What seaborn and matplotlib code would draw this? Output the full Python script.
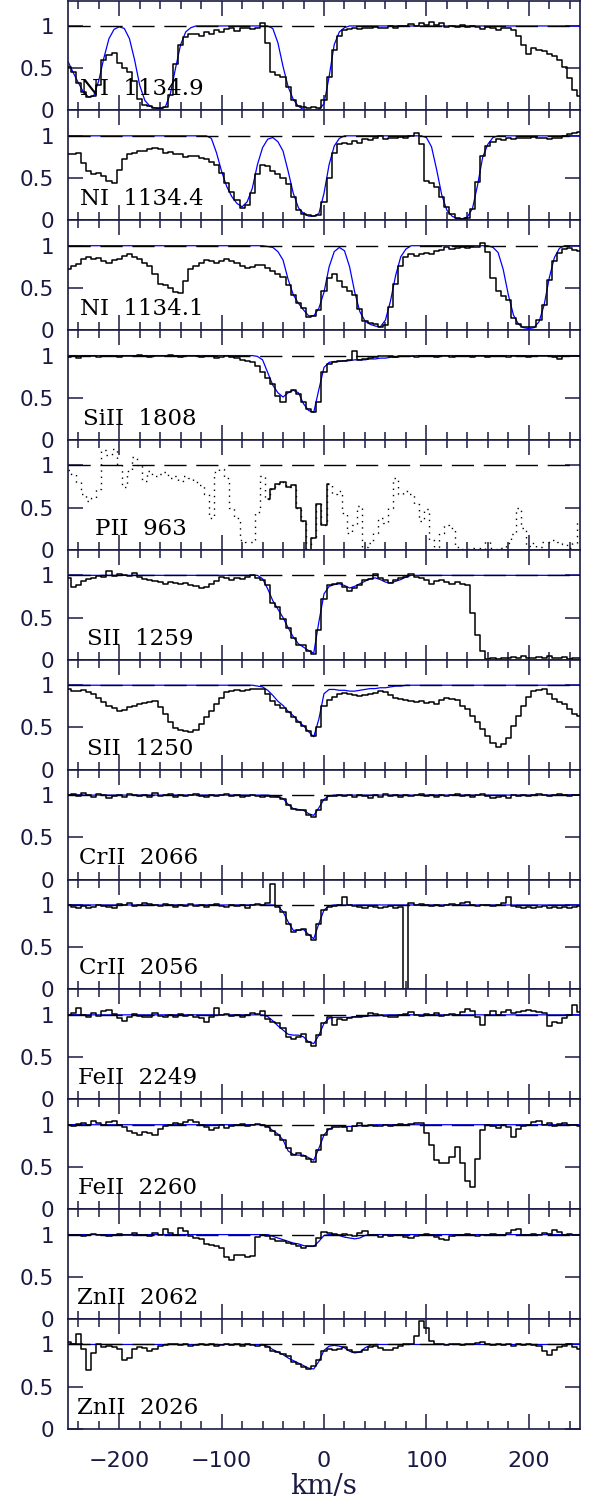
import numpy as np
import matplotlib
matplotlib.use("Agg")
import matplotlib.pyplot as plt
import seaborn as sns
from matplotlib.ticker import FixedLocator, MultipleLocator

# ---------------- data ----------------
VEL = np.arange(-250, 251, 5)  # velocity grid (km/s)

LABELS = ["NI  1134.9", "NI  1134.4", "NI  1134.1", "SiII  1808", "PII  963",
          "SII  1259", "SII  1250", "CrII  2066", "CrII  2056", "FeII  2249",
          "FeII  2260", "ZnII  2062", "ZnII  2026"]

F1 = [0.52, 0.45, 0.33, 0.22, 0.16, 0.17, 0.30, 0.60, 0.66, 0.68,
      0.56, 0.50, 0.46, 0.35, 0.14, 0.07, 0.05, 0.03, 0.03, 0.04,
      0.18, 0.55, 0.78, 0.87, 0.90, 0.91, 0.88, 0.93, 0.91, 0.95,
      0.93, 0.96, 0.98, 0.94, 0.98, 0.97, 0.96, 0.98, 1.04, 0.80,
      0.45, 0.42, 0.40, 0.28, 0.12, 0.05, 0.04, 0.03, 0.04, 0.03,
      0.12, 0.40, 0.72, 0.88, 0.95, 0.96, 0.97, 0.96, 0.98, 0.97,
      0.99, 0.97, 0.98, 1.00, 0.97, 1.00, 1.00, 1.02, 1.00, 1.03,
      1.01, 1.05, 1.01, 1.03, 0.99, 1.00, 0.99, 1.01, 0.99, 1.00,
      0.99, 0.96, 0.99, 0.97, 0.95, 0.97, 0.98, 0.95, 0.88, 0.78,
      0.67, 0.74, 0.72, 0.70, 0.67, 0.65, 0.60, 0.52, 0.38, 0.24,
      0.17]
M1 = [0.58, 0.45, 0.33, 0.22, 0.16, 0.17, 0.35, 0.62, 0.85, 0.96,
      0.99, 0.97, 0.85, 0.60, 0.30, 0.12, 0.05, 0.03, 0.02, 0.04,
      0.20, 0.50, 0.78, 0.93, 0.98, 1, 1, 1, 1, 1,
      1, 1, 1, 1, 1, 1, 1, 1, 1, 1,
      0.97, 0.80, 0.52, 0.28, 0.13, 0.05, 0.01, 0.00, 0.00, 0.01,
      0.08, 0.40, 0.78, 0.93, 0.98, 1, 1, 1, 1, 1,
      1, 1, 1, 1, 1, 1, 1, 1, 1, 1,
      1, 1, 1, 1, 1, 1, 1, 1, 1, 1,
      1, 1, 1, 1, 1, 1, 1, 1, 1, 1,
      1, 1, 1, 1, 1, 1, 1, 1, 1, 1,
      1]

F2 = [0.79, 0.78, 0.80, 0.68, 0.58, 0.55, 0.56, 0.53, 0.46, 0.44,
      0.60, 0.72, 0.79, 0.80, 0.82, 0.82, 0.84, 0.86, 0.84, 0.80,
      0.81, 0.79, 0.78, 0.75, 0.76, 0.76, 0.74, 0.72, 0.69, 0.65,
      0.56, 0.44, 0.33, 0.24, 0.15, 0.18, 0.32, 0.55, 0.66, 0.64,
      0.58, 0.55, 0.50, 0.43, 0.28, 0.12, 0.08, 0.06, 0.05, 0.06,
      0.22, 0.50, 0.80, 0.90, 0.92, 0.90, 0.94, 0.92, 0.96, 0.95,
      0.97, 1.00, 0.96, 0.98, 0.97, 0.99, 0.98, 1.00, 1.03, 0.90,
      0.47, 0.44, 0.40, 0.28, 0.16, 0.07, 0.03, 0.02, 0.03, 0.14,
      0.45, 0.76, 0.88, 0.93, 0.96, 0.95, 0.97, 0.96, 0.98, 0.97,
      0.98, 0.99, 0.97, 0.98, 0.96, 0.97, 0.98, 1.00, 1.02, 1.03,
      1.04]
M2 = [1, 1, 1, 1, 1, 1, 1, 1, 1, 1,
      1, 1, 1, 1, 1, 1, 1, 1, 1, 1,
      1, 1, 1, 1, 1, 1, 1, 1, 0.97, 0.80,
      0.58, 0.40, 0.28, 0.20, 0.16, 0.22, 0.38, 0.66, 0.86, 0.96,
      0.98, 0.93, 0.82, 0.58, 0.32, 0.15, 0.08, 0.05, 0.05, 0.08,
      0.32, 0.66, 0.88, 0.97, 1, 1, 1, 1, 1, 1,
      1, 1, 1, 1, 1, 1, 1, 1, 1, 1,
      0.98, 0.87, 0.60, 0.30, 0.12, 0.05, 0.02, 0.02, 0.04, 0.14,
      0.42, 0.75, 0.90, 0.98, 1, 1, 1, 1, 1, 1,
      1, 1, 1, 1, 1, 1, 1, 1, 1, 1,
      1]

F3 = [0.72, 0.76, 0.78, 0.84, 0.87, 0.84, 0.85, 0.82, 0.80, 0.83,
      0.84, 0.88, 0.90, 0.87, 0.84, 0.80, 0.76, 0.66, 0.55, 0.53,
      0.50, 0.45, 0.44, 0.58, 0.72, 0.76, 0.79, 0.83, 0.82, 0.80,
      0.82, 0.84, 0.82, 0.80, 0.76, 0.74, 0.75, 0.77, 0.77, 0.74,
      0.70, 0.67, 0.63, 0.54, 0.42, 0.32, 0.26, 0.16, 0.17, 0.24,
      0.46, 0.62, 0.66, 0.58, 0.51, 0.47, 0.42, 0.25, 0.11, 0.08,
      0.07, 0.04, 0.06, 0.28, 0.55, 0.76, 0.87, 0.90, 0.88, 0.90,
      0.91, 0.90, 0.94, 0.95, 0.98, 0.96, 0.97, 0.98, 0.97, 0.98,
      0.99, 1.03, 0.92, 0.62, 0.46, 0.41, 0.36, 0.14, 0.07, 0.04,
      0.04, 0.04, 0.12, 0.30, 0.60, 0.82, 0.91, 0.96, 0.97, 0.95,
      0.94]
M3 = [1, 1, 1, 1, 1, 1, 1, 1, 1, 1,
      1, 1, 1, 1, 1, 1, 1, 1, 1, 1,
      1, 1, 1, 1, 1, 1, 1, 1, 1, 1,
      1, 1, 1, 1, 1, 1, 1, 1, 1, 0.99,
      0.98, 0.93, 0.83, 0.60, 0.42, 0.32, 0.24, 0.17, 0.17, 0.26,
      0.45, 0.75, 0.93, 0.98, 0.94, 0.75, 0.45, 0.22, 0.11, 0.07,
      0.05, 0.04, 0.12, 0.35, 0.65, 0.87, 0.96, 1, 1, 1,
      1, 1, 1, 1, 1, 1, 1, 1, 1, 1,
      1, 1, 1, 0.98, 0.92, 0.72, 0.42, 0.18, 0.07, 0.03,
      0.02, 0.03, 0.10, 0.30, 0.62, 0.86, 0.97, 1, 1, 1,
      1]

F4 = [0.98, 0.99, 0.97, 1.00, 0.99, 1.00, 0.98, 0.99, 1.00, 0.99,
      0.98, 1.00, 0.99, 0.99, 1.01, 0.99, 0.98, 1.00, 0.99, 1.00,
      1.01, 0.99, 0.98, 1.00, 1.00, 0.99, 0.98, 0.99, 1.00, 0.97,
      0.98, 0.99, 0.98, 0.97, 0.95, 0.94, 0.93, 0.88, 0.80, 0.74,
      0.66, 0.52, 0.45, 0.57, 0.59, 0.55, 0.45, 0.37, 0.33, 0.45,
      0.80, 0.90, 0.93, 0.94, 0.94, 0.95, 1.06, 0.95, 0.96, 0.97,
      0.98, 1.00, 0.99, 1.00, 0.98, 1.00, 0.99, 1.00, 0.98, 1.00,
      0.99, 1.00, 0.98, 1.00, 0.99, 0.98, 1.00, 0.99, 1.00, 0.98,
      0.99, 1.00, 0.98, 1.00, 0.99, 1.00, 0.98, 0.99, 1.00, 0.99,
      0.98, 1.00, 0.99, 1.00, 0.99, 0.98, 0.96, 0.99, 1.00, 1.00,
      1.00]
M4 = [1, 1, 1, 1, 1, 1, 1, 1, 1, 1,
      1, 1, 1, 1, 1, 1, 1, 1, 1, 1,
      1, 1, 1, 1, 1, 1, 1, 1, 1, 1,
      1, 1, 1, 1, 1, 1, 1, 0.99, 0.95, 0.80,
      0.65, 0.56, 0.51, 0.56, 0.59, 0.56, 0.43, 0.35, 0.33, 0.60,
      0.86, 0.92, 0.93, 0.93, 0.94, 0.94, 0.95, 0.95, 0.95, 0.96,
      0.96, 0.97, 0.97, 0.98, 0.98, 0.99, 0.99, 0.99, 1, 1,
      1, 1, 1, 1, 1, 1, 1, 1, 1, 1,
      1, 1, 1, 1, 1, 1, 1, 1, 1, 1,
      1, 1, 1, 1, 1, 1, 1, 1, 1, 1,
      1]

F5 = [0.95, 0.90, 0.80, 0.66, 0.58, 0.62, 0.72, 1.18, 1.12, 1.20,
      1.02, 0.75, 0.93, 1.10, 1.00, 0.82, 0.93, 0.88, 0.90, 0.92,
      0.85, 0.88, 0.82, 0.87, 0.85, 0.80, 0.77, 0.66, 0.38, 0.92,
      0.96, 0.85, 0.50, 0.38, 0.12, 0.10, 0.10, 0.45, 0.88, 0.60,
      0.72, 0.78, 0.80, 0.74, 0.77, 0.50, 0.34, 0.00, 0.14, 0.54,
      0.30, 0.78, 0.66, 0.70, 0.44, 0.20, 0.30, 0.52, 0.04, 0.08,
      0.20, 0.38, 0.32, 0.50, 0.85, 0.66, 0.70, 0.66, 0.54, 0.34,
      0.48, 0.12, 0.03, 0.20, 0.30, 0.26, 0.04, 0.01, 0.01, 0.02,
      0.02, 0.01, 0.10, 0.02, 0.01, 0.02, 0.08, 0.19, 0.50, 0.26,
      0.05, 0.08, 0.03, 0.10, 0.10, 0.12, 0.10, 0.07, 0.02, 0.08,
      0.34]
PII_GOOD = (-55, 5)   # unblended velocity range drawn solid

F6 = [0.97, 0.86, 0.88, 0.93, 0.96, 0.97, 0.99, 0.98, 1.05, 0.99,
      1.02, 1.00, 0.99, 1.03, 0.98, 0.96, 0.95, 0.93, 0.92, 0.90,
      0.92, 0.91, 0.90, 0.91, 0.88, 0.87, 0.85, 0.86, 0.90, 0.93,
      0.98, 0.97, 0.95, 0.97, 0.96, 0.98, 1.00, 0.97, 0.95, 0.88,
      0.67, 0.62, 0.48, 0.38, 0.26, 0.18, 0.17, 0.11, 0.07, 0.35,
      0.72, 0.88, 0.90, 0.91, 0.86, 0.82, 0.85, 0.88, 0.94, 0.96,
      1.02, 0.97, 0.95, 0.91, 0.94, 0.97, 0.98, 1.02, 0.98, 0.97,
      0.95, 0.90, 0.93, 0.95, 0.92, 0.90, 0.92, 0.90, 0.88, 0.55,
      0.30, 0.10, 0.01, 0.02, 0.01, 0.02, 0.02, 0.03, 0.02, 0.04,
      0.02, 0.02, 0.03, 0.02, 0.04, 0.02, 0.02, 0.03, 0.01, 0.02,
      0.02]
M6 = [1, 1, 1, 1, 1, 1, 1, 1, 1, 1,
      1, 1, 1, 1, 1, 1, 1, 1, 1, 1,
      1, 1, 1, 1, 1, 1, 1, 1, 1, 1,
      1, 1, 1, 1, 1, 1, 1, 1, 0.96, 0.84,
      0.70, 0.60, 0.50, 0.38, 0.27, 0.19, 0.15, 0.11, 0.08, 0.45,
      0.78, 0.87, 0.89, 0.90, 0.88, 0.85, 0.87, 0.90, 0.93, 0.96,
      0.97, 0.95, 0.92, 0.91, 0.93, 0.95, 0.98, 1, 1, 1,
      1, 1, 1, 1, 1, 1, 1, 1, 1, 1,
      1, 1, 1, 1, 1, 1, 1, 1, 1, 1,
      1, 1, 1, 1, 1, 1, 1, 1, 1, 1,
      1]

F7 = [0.95, 0.93, 0.93, 0.94, 0.92, 0.90, 0.85, 0.80, 0.76, 0.73,
      0.70, 0.71, 0.74, 0.76, 0.78, 0.79, 0.80, 0.81, 0.74, 0.66,
      0.56, 0.49, 0.47, 0.46, 0.45, 0.47, 0.54, 0.62, 0.70, 0.78,
      0.85, 0.92, 0.93, 0.94, 0.93, 0.94, 0.95, 0.96, 0.95, 0.90,
      0.81, 0.77, 0.73, 0.68, 0.62, 0.57, 0.52, 0.46, 0.40, 0.50,
      0.76, 0.82, 0.86, 0.90, 0.91, 0.90, 0.88, 0.87, 0.88, 0.90,
      0.91, 0.93, 0.92, 0.88, 0.85, 0.84, 0.82, 0.81, 0.80, 0.81,
      0.79, 0.80, 0.78, 0.82, 0.85, 0.84, 0.82, 0.76, 0.72, 0.64,
      0.56, 0.48, 0.40, 0.32, 0.27, 0.30, 0.38, 0.52, 0.64, 0.76,
      0.86, 0.93, 0.94, 0.95, 0.90, 0.84, 0.80, 0.78, 0.72, 0.66,
      0.64]
M7 = [1, 1, 1, 1, 1, 1, 1, 1, 1, 1,
      1, 1, 1, 1, 1, 1, 1, 1, 1, 1,
      1, 1, 1, 1, 1, 1, 1, 1, 1, 1,
      1, 1, 1, 1, 1, 1, 1, 0.99, 0.98, 0.94,
      0.88, 0.81, 0.76, 0.69, 0.64, 0.57, 0.52, 0.45, 0.39, 0.60,
      0.90, 0.95, 0.95, 0.94, 0.94, 0.93, 0.93, 0.94, 0.95, 0.96,
      0.96, 0.97, 0.97, 0.98, 0.99, 0.99, 1, 1, 1, 1,
      1, 1, 1, 1, 1, 1, 1, 1, 1, 1,
      1, 1, 1, 1, 1, 1, 1, 1, 1, 1,
      1, 1, 1, 1, 1, 1, 1, 1, 1, 1,
      1]

F8 = [1.00, 1.01, 0.99, 1.02, 1.00, 0.98, 1.01, 1.00, 0.97, 0.99,
      1.00, 0.98, 1.01, 1.00, 0.99, 1.00, 0.98, 1.02, 0.99, 1.00,
      1.01, 0.98, 1.00, 0.99, 1.00, 1.01, 0.99, 0.98, 1.00, 0.99,
      1.00, 1.01, 0.99, 1.00, 0.98, 0.99, 1.00, 0.99, 0.98, 0.99,
      0.98, 0.98, 0.95, 0.88, 0.83, 0.82, 0.82, 0.76, 0.74, 0.82,
      0.94, 0.99, 0.99, 1.00, 0.99, 1.00, 0.98, 1.00, 0.99, 0.97,
      1.00, 0.98, 1.01, 0.99, 1.00, 0.98, 1.00, 0.99, 1.00, 1.01,
      0.99, 1.00, 0.98, 1.00, 0.99, 1.00, 1.01, 0.99, 1.00, 0.98,
      1.00, 1.01, 0.99, 0.96, 0.98, 0.99, 0.97, 1.00, 0.99, 1.00,
      0.99, 1.00, 1.01, 1.00, 0.99, 1.00, 1.01, 1.00, 0.99, 1.00,
      1.00]
M8 = [1, 1, 1, 1, 1, 1, 1, 1, 1, 1,
      1, 1, 1, 1, 1, 1, 1, 1, 1, 1,
      1, 1, 1, 1, 1, 1, 1, 1, 1, 1,
      1, 1, 1, 1, 1, 1, 1, 1, 1, 1,
      0.99, 0.98, 0.96, 0.89, 0.84, 0.83, 0.82, 0.78, 0.76, 0.85,
      0.95, 0.99, 1, 1, 1, 1, 1, 1, 1, 1,
      1, 1, 1, 1, 1, 1, 1, 1, 1, 1,
      1, 1, 1, 1, 1, 1, 1, 1, 1, 1,
      1, 1, 1, 1, 1, 1, 1, 1, 1, 1,
      1, 1, 1, 1, 1, 1, 1, 1, 1, 1,
      1]

F9 = [1.00, 0.98, 0.97, 0.99, 0.97, 0.98, 1.00, 0.99, 0.98, 0.96,
      1.01, 1.00, 1.02, 0.99, 1.00, 1.02, 1.01, 1.00, 0.99, 1.01,
      1.00, 0.98, 1.00, 0.99, 1.01, 0.99, 1.00, 0.98, 1.00, 1.01,
      0.99, 0.98, 1.00, 0.99, 1.00, 0.97, 1.00, 1.01, 1.00, 1.02,
      1.25, 0.98, 0.92, 0.78, 0.68, 0.70, 0.71, 0.64, 0.59, 0.78,
      0.94, 0.98, 0.99, 1.00, 1.10, 1.00, 0.99, 0.98, 0.97, 0.99,
      0.98, 0.97, 0.98, 0.99, 0.97, 0.98, 0.00, 1.02, 1.00, 1.01,
      1.00, 0.99, 1.00, 0.99, 1.00, 1.01, 1.00, 1.02, 1.04, 1.00,
      0.99, 1.00, 1.00, 0.99, 1.00, 1.02, 1.10, 0.99, 0.98, 0.97,
      0.98, 0.97, 0.98, 0.99, 0.97, 0.98, 0.97, 0.98, 0.96, 0.98,
      0.99]
M9 = [1, 1, 1, 1, 1, 1, 1, 1, 1, 1,
      1, 1, 1, 1, 1, 1, 1, 1, 1, 1,
      1, 1, 1, 1, 1, 1, 1, 1, 1, 1,
      1, 1, 1, 1, 1, 1, 1, 1, 1, 1,
      1.00, 0.99, 0.92, 0.80, 0.70, 0.70, 0.71, 0.65, 0.60, 0.78,
      0.94, 0.99, 1, 1, 1, 1, 1, 1, 1, 1,
      1, 1, 1, 1, 1, 1, 1, 1, 1, 1,
      1, 1, 1, 1, 1, 1, 1, 1, 1, 1,
      1, 1, 1, 1, 1, 1, 1, 1, 1, 1,
      1, 1, 1, 1, 1, 1, 1, 1, 1, 1,
      1]

F10 = [1.00, 1.02, 1.08, 1.00, 0.98, 1.02, 0.99, 1.04, 1.06, 1.01,
       0.96, 0.93, 0.98, 1.01, 0.99, 0.97, 0.98, 1.02, 0.99, 0.97,
       1.00, 0.98, 1.01, 0.99, 1.00, 0.98, 0.96, 0.92, 0.98, 1.08,
       1.00, 1.01, 0.99, 1.00, 0.98, 1.00, 1.02, 1.01, 1.04, 0.95,
       0.92, 0.90, 0.85, 0.74, 0.71, 0.74, 0.77, 0.68, 0.63, 0.76,
       0.90, 0.97, 0.88, 0.95, 0.94, 0.96, 0.97, 0.98, 0.99, 1.02,
       1.01, 1.00, 0.99, 0.97, 0.98, 1.00, 1.01, 1.03, 1.00, 0.99,
       1.01, 1.00, 1.02, 0.99, 1.00, 1.01, 1.00, 1.03, 1.07, 1.04,
       0.97, 0.88, 1.00, 1.04, 1.00, 1.03, 1.06, 1.02, 1.03, 1.05,
       1.06, 1.04, 1.03, 1.02, 0.87, 0.92, 0.90, 0.96, 1.00, 1.12,
       1.03]
M10 = [1, 1, 1, 1, 1, 1, 1, 1, 1, 1,
       1, 1, 1, 1, 1, 1, 1, 1, 1, 1,
       1, 1, 1, 1, 1, 1, 1, 1, 1, 1,
       1, 1, 1, 1, 1, 1, 1, 1, 1, 0.98,
       0.93, 0.87, 0.82, 0.77, 0.76, 0.76, 0.74, 0.68, 0.66, 0.76,
       0.90, 0.96, 0.97, 0.97, 0.97, 0.97, 0.98, 0.98, 0.98, 0.99,
       0.99, 0.99, 1, 1, 1, 1, 1, 1, 1, 1,
       1, 1, 1, 1, 1, 1, 1, 1, 1, 1,
       1, 1, 1, 1, 1, 1, 1, 1, 1, 1,
       1, 1, 1, 1, 1, 1, 1, 1, 1, 1,
       1]

F11 = [1.00, 0.98, 1.01, 1.02, 1.00, 1.04, 1.02, 1.00, 1.03, 1.04,
       1.00, 0.97, 0.93, 0.90, 0.88, 0.91, 0.90, 0.88, 0.95, 0.99,
       1.00, 1.02, 1.01, 1.03, 1.05, 1.03, 1.00, 0.97, 0.94, 0.96,
       1.00, 0.96, 0.99, 1.00, 1.01, 0.99, 1.00, 1.01, 1.00, 0.97,
       0.92, 0.88, 0.82, 0.72, 0.64, 0.66, 0.63, 0.60, 0.56, 0.70,
       0.88, 0.95, 0.98, 0.99, 0.97, 0.92, 0.98, 1.02, 0.99, 1.00,
       0.98, 0.98, 1.00, 0.99, 1.00, 1.01, 1.00, 1.01, 1.02, 1.02,
       0.90, 0.76, 0.58, 0.55, 0.55, 0.62, 0.74, 0.55, 0.34, 0.26,
       0.60, 0.94, 1.00, 0.98, 0.96, 1.00, 0.97, 0.86, 0.95, 0.98,
       1.00, 1.03, 1.04, 1.00, 1.02, 0.99, 1.01, 1.02, 1.00, 1.00,
       0.99]
M11 = [1, 1, 1, 1, 1, 1, 1, 1, 1, 1,
       1, 1, 1, 1, 1, 1, 1, 1, 1, 1,
       1, 1, 1, 1, 1, 1, 1, 1, 1, 1,
       1, 1, 1, 1, 1, 1, 1, 1, 1, 0.98,
       0.93, 0.89, 0.82, 0.69, 0.65, 0.64, 0.64, 0.61, 0.58, 0.72,
       0.88, 0.95, 0.97, 0.97, 0.98, 0.98, 0.98, 0.99, 0.99, 0.99,
       1, 1, 1, 1, 1, 1, 1, 1, 1, 1,
       1, 1, 1, 1, 1, 1, 1, 1, 1, 1,
       1, 1, 1, 1, 1, 1, 1, 1, 1, 1,
       1, 1, 1, 1, 1, 1, 1, 1, 1, 1,
       1]

F12 = [1.00, 0.99, 1.00, 0.98, 1.00, 1.01, 0.99, 1.00, 0.98, 1.00,
       1.01, 0.99, 1.00, 1.02, 0.99, 1.00, 0.98, 1.02, 1.00, 1.07,
       1.02, 0.99, 1.08, 1.04, 0.98, 0.96, 0.95, 0.89, 0.88, 0.87,
       0.84, 0.74, 0.70, 0.76, 0.76, 0.73, 0.75, 0.97, 1.00, 0.98,
       0.95, 0.92, 0.93, 0.90, 0.89, 0.87, 0.84, 0.86, 0.87, 0.96,
       1.03, 1.02, 1.01, 1.00, 1.01, 0.99, 0.98, 1.02, 1.04, 1.00,
       0.99, 0.97, 1.00, 0.98, 1.00, 0.99, 0.97, 0.96, 0.98, 1.00,
       1.01, 0.99, 0.97, 0.95, 0.94, 0.98, 1.00, 0.99, 1.01, 1.00,
       0.98, 1.00, 0.99, 1.01, 1.00, 0.99, 1.02, 1.05, 1.07, 1.00,
       0.99, 1.01, 1.00, 1.02, 1.01, 1.05, 1.03, 1.00, 1.01, 1.00,
       1.00]
M12 = [1, 1, 1, 1, 1, 1, 1, 1, 1, 1,
       1, 1, 1, 1, 1, 1, 1, 1, 1, 1,
       1, 1, 1, 1, 1, 1, 1, 1, 1, 1,
       1, 1, 1, 1, 1, 1, 1, 1, 1, 1,
       0.98, 0.96, 0.94, 0.92, 0.90, 0.89, 0.87, 0.86, 0.86, 0.92,
       0.99, 1.00, 1.00, 0.99, 0.97, 0.96, 0.95, 0.96, 0.99, 1,
       1, 1, 1, 1, 1, 1, 1, 1, 1, 1,
       1, 1, 1, 1, 1, 1, 1, 1, 1, 1,
       1, 1, 1, 1, 1, 1, 1, 1, 1, 1,
       1, 1, 1, 1, 1, 1, 1, 1, 1, 1,
       1]

F13 = [1.03, 1.00, 1.12, 0.95, 0.70, 0.90, 1.00, 0.97, 0.98, 0.97,
       0.95, 0.82, 0.84, 0.95, 0.97, 0.96, 0.92, 0.95, 0.98, 0.99,
       1.01, 1.00, 0.99, 1.00, 0.98, 0.99, 1.00, 0.99, 1.00, 0.98,
       0.99, 1.01, 0.99, 1.00, 0.98, 1.00, 0.99, 0.98, 0.99, 0.97,
       0.92, 0.91, 0.89, 0.86, 0.79, 0.77, 0.73, 0.71, 0.74, 0.82,
       0.92, 0.95, 0.94, 0.95, 0.97, 0.93, 0.91, 0.91, 0.94, 0.97,
       0.98, 0.96, 0.94, 0.93, 0.96, 0.98, 1.00, 1.01, 1.10, 1.28,
       1.20, 1.04, 1.00, 1.01, 0.99, 1.00, 1.01, 0.99, 1.00, 1.00,
       1.02, 1.03, 1.00, 0.99, 1.00, 0.99, 1.00, 0.98, 1.00, 0.99,
       1.00, 0.99, 0.98, 0.92, 0.87, 0.93, 0.97, 0.98, 1.00, 0.97,
       0.95]
M13 = [1, 1, 1, 1, 1, 1, 1, 1, 1, 1,
       1, 1, 1, 1, 1, 1, 1, 1, 1, 1,
       1, 1, 1, 1, 1, 1, 1, 1, 1, 1,
       1, 1, 1, 1, 1, 1, 1, 1, 1, 0.98,
       0.94, 0.91, 0.88, 0.84, 0.81, 0.78, 0.75, 0.72, 0.71, 0.80,
       0.93, 0.98, 0.99, 0.98, 0.96, 0.92, 0.90, 0.91, 0.96, 0.99,
       1, 1, 1, 1, 1, 1, 1, 1, 1, 1,
       1, 1, 1, 1, 1, 1, 1, 1, 1, 1,
       1, 1, 1, 1, 1, 1, 1, 1, 1, 1,
       1, 1, 1, 1, 1, 1, 1, 1, 1, 1,
       1]

FLUX = [F1, F2, F3, F4, F5, F6, F7, F8, F9, F10, F11, F12, F13]
MODEL = [M1, M2, M3, M4, None, M6, M7, M8, M9, M10, M11, M12, M13]

for k, (f, m) in enumerate(zip(FLUX, MODEL)):
    if len(f) != len(VEL) or (m is not None and len(m) != len(VEL)):
        raise ValueError(f"panel {k+1}: flux {len(f)} model {None if m is None else len(m)}")

# ---------------- style ----------------
LABEL_X = [-238, -238, -238, -235, -224, -231, -231, -239, -239, -240, -240, -241, -241]
NAVY = "#1a1a44"

sns.set_style("ticks")
plt.rcParams["font.family"] = ["DejaVu Sans"]

fig, axes = plt.subplots(13, 1, figsize=(5.92, 14.99), dpi=100, sharex=True)
fig.subplots_adjust(left=68 / 592, right=580 / 592, top=0.9996, bottom=70 / 1499, hspace=0)

for i, ax in enumerate(axes):
    flux = np.asarray(FLUX[i], dtype=float)
    model = MODEL[i]
    if model is not None:
        sns.lineplot(x=VEL, y=np.asarray(model, dtype=float), ax=ax, color="#0000ff",
                     lw=0.9, estimator=None, zorder=2)
    ax.axhline(1.0, color="black", lw=1.0, dashes=(16, 7), zorder=3)
    if model is None:
        sns.lineplot(x=VEL, y=flux, ax=ax, color="black", lw=1.0, estimator=None,
                     drawstyle="steps-mid", linestyle=(0, (1, 3.5)), zorder=4)
        good = (VEL >= PII_GOOD[0]) & (VEL <= PII_GOOD[1])
        sns.lineplot(x=VEL[good], y=flux[good], ax=ax, color="black", lw=1.1,
                     estimator=None, drawstyle="steps-mid", zorder=5)
    else:
        sns.lineplot(x=VEL, y=flux, ax=ax, color="black", lw=1.1, estimator=None,
                     drawstyle="steps-mid", zorder=4)

    ax.set_xlim(-250, 250)
    ax.set_ylim(0, 1.3)
    ax.xaxis.set_major_locator(FixedLocator([-200, -100, 0, 100, 200]))
    ax.xaxis.set_minor_locator(MultipleLocator(20))
    ax.yaxis.set_major_locator(FixedLocator([0, 0.5, 1]))
    ax.set_yticklabels(["0", "0.5", "1"])
    ax.tick_params(axis="x", which="major", direction="in", length=10.8, width=1.1,
                   top=True, bottom=True, color=NAVY, labelsize=16, labelcolor=NAVY, pad=16)
    ax.tick_params(axis="x", which="minor", direction="in", length=5.8, width=1.1,
                   top=True, bottom=True, color=NAVY)
    ax.tick_params(axis="y", which="major", direction="in", length=11, width=1.1,
                   left=True, right=True, color=NAVY, labelsize=15.5, labelcolor=NAVY, pad=10)
    for sp in ax.spines.values():
        sp.set_visible(True)
        sp.set_color(NAVY)
        sp.set_linewidth(1.2)
    ax.set_ylabel("")
    ax.set_xlabel("")
    ax.text(LABEL_X[i], 0.18, LABELS[i], fontsize=16.5, family=["DejaVu Serif"],
            va="baseline", ha="left", color="black", zorder=6)

axes[-1].set_xlabel("km/s", fontsize=20, family=["DejaVu Serif"], color=NAVY, labelpad=1)

fig.savefig("out.png", dpi=100)
